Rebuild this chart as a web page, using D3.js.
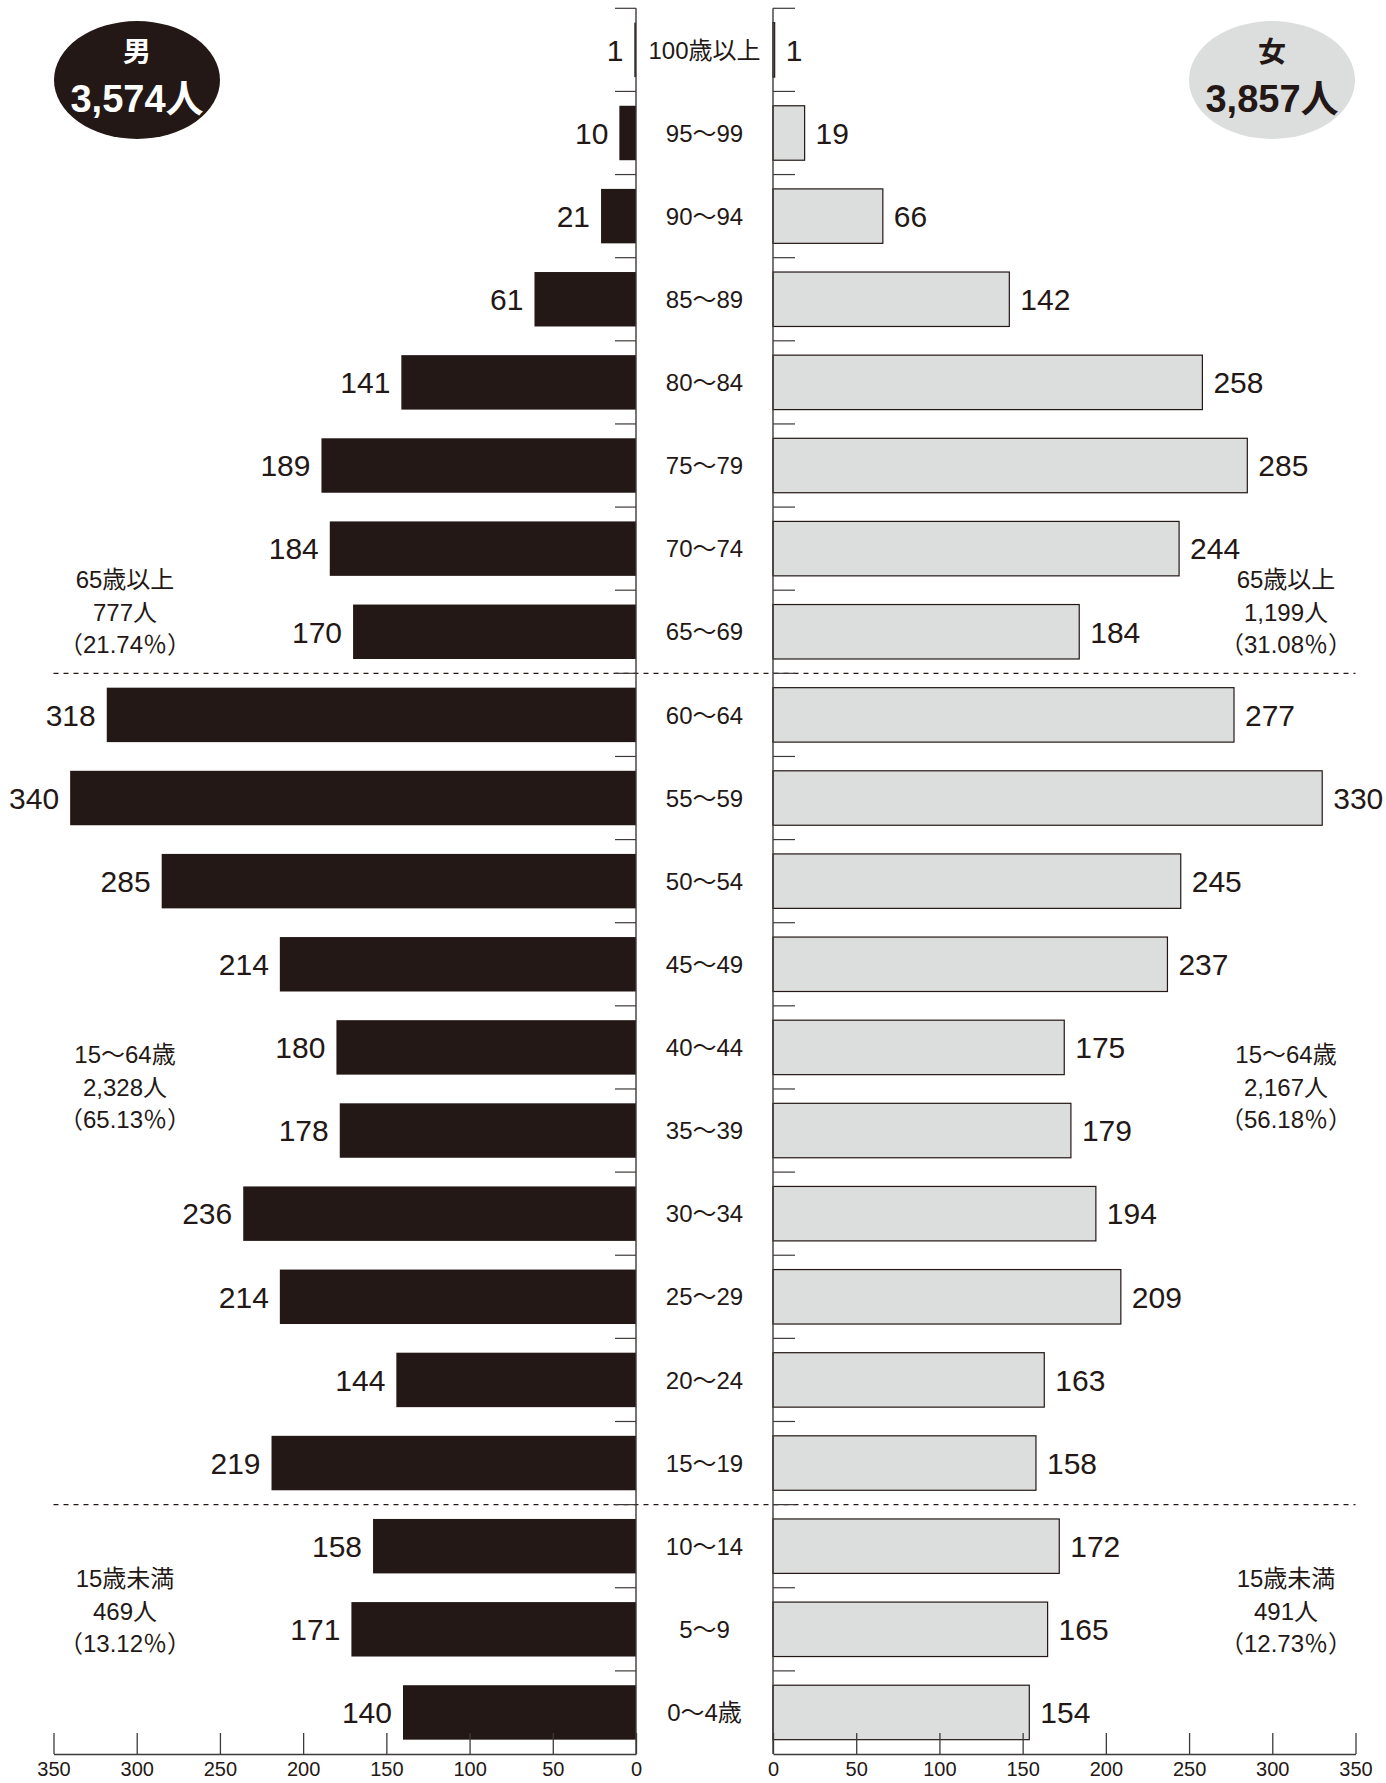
<!DOCTYPE html>
<html>
<head>
<meta charset="utf-8">
<script src="https://cdn.jsdelivr.net/npm/d3@7"></script>
<style>
  html, body { margin: 0; padding: 0; background: #fff; }
  svg text { font-family: "Liberation Sans", Arial, "Noto Sans CJK JP", sans-serif; fill: #231815; }
</style>
</head>
<body>
<div id="chart"></div>
<script>
// 年齢階級（上から）
const ages = ["100歳以上", "95～99", "90～94", "85～89", "80～84", "75～79", "70～74",
  "65～69", "60～64", "55～59", "50～54", "45～49", "40～44", "35～39", "30～34",
  "25～29", "20～24", "15～19", "10～14", "5～9", "0～4歳"];
const male = [1, 10, 21, 61, 141, 189, 184, 170, 318, 340, 285, 214, 180, 178, 236, 214, 144, 219, 158, 171, 140];
const female = [1, 19, 66, 142, 258, 285, 244, 184, 277, 330, 245, 237, 175, 179, 194, 209, 163, 158, 172, 165, 154];
const tickValues = [0, 50, 100, 150, 200, 250, 300, 350];
const totals = { male: ["男", "3,574人"], female: ["女", "3,857人"] };
// 区切り線（この年齢階級の上）
const dividers = ["60～64", "10～14"];
const maleGroups = [
  ["65歳以上", "777人", "（21.74％）"],
  ["15～64歳", "2,328人", "（65.13％）"],
  ["15歳未満", "469人", "（13.12％）"]
];
const femaleGroups = [
  ["65歳以上", "1,199人", "（31.08％）"],
  ["15～64歳", "2,167人", "（56.18％）"],
  ["15歳未満", "491人", "（12.73％）"]
];

const width = 1386, height = 1783;
const ink = "#231815";
const axisColor = "#3e3a39";

const svg = d3.select("#chart").append("svg")
  .attr("width", width).attr("height", height);

const leftZero = 636, rightZero = 773;
const span = 582.5;
const yTop = 8.3, yBottom = 1754;

const xL = d3.scaleLinear().domain([0, 350]).range([leftZero, leftZero - span]);
const xR = d3.scaleLinear().domain([0, 350]).range([rightZero, rightZero + span]);
const y = d3.scaleBand().domain(ages).range([yTop, yBottom])
  .paddingInner(0.345).paddingOuter(0.1725);
const step = y.step();
const boundary = (a) => y(a) - step * 0.345 / 2;

// 区切り線（破線）
svg.selectAll(".divider").data(dividers).enter().append("line")
  .attr("x1", xL(350)).attr("x2", xR(350))
  .attr("y1", (d) => boundary(d)).attr("y2", (d) => boundary(d))
  .attr("stroke", ink).attr("stroke-width", 1.2)
  .attr("stroke-dasharray", "5,5");

// 男 棒
svg.selectAll(".barM").data(ages).enter().append("rect")
  .attr("x", (d, i) => xL(male[i]))
  .attr("y", (d) => y(d))
  .attr("width", (d, i) => xL(0) - xL(male[i]))
  .attr("height", y.bandwidth())
  .attr("fill", ink);

// 女 棒
svg.selectAll(".barF").data(ages).enter().append("rect")
  .attr("x", xR(0))
  .attr("y", (d) => y(d))
  .attr("width", (d, i) => xR(female[i]) - xR(0))
  .attr("height", y.bandwidth())
  .attr("fill", "#dcdddd")
  .attr("stroke", ink).attr("stroke-width", 1.2);

// 縦軸と目盛り
[[leftZero, -21], [rightZero, 22]].forEach(([x0, len]) => {
  svg.append("line")
    .attr("x1", x0).attr("x2", x0).attr("y1", yTop).attr("y2", yBottom)
    .attr("stroke", axisColor).attr("stroke-width", 1.4);
  const bounds = ages.map((a) => boundary(a));
  svg.selectAll(null).data(bounds).enter().append("line")
    .attr("x1", x0).attr("x2", x0 + len)
    .attr("y1", (d) => d).attr("y2", (d) => d)
    .attr("stroke", axisColor).attr("stroke-width", 1.2);
});

// 横軸
const axL = svg.append("g").attr("transform", `translate(0,${yBottom})`)
  .call(d3.axisBottom(xL).tickValues(tickValues).tickSize(-21).tickSizeOuter(0).tickPadding(8));
const axR = svg.append("g").attr("transform", `translate(0,${yBottom})`)
  .call(d3.axisBottom(xR).tickValues(tickValues).tickSize(-21).tickSizeOuter(0).tickPadding(8));
[axL, axR].forEach((ax) => {
  ax.select(".domain").attr("stroke", axisColor).attr("stroke-width", 1.4);
  ax.selectAll(".tick line").attr("stroke", axisColor).attr("stroke-width", 1.3);
  ax.selectAll(".tick text")
    .style("font-family", "'Liberation Sans', Arial, sans-serif")
    .attr("font-size", 20).attr("fill", ink);
});

// 年齢ラベル
svg.selectAll(".age").data(ages).enter().append("text")
  .attr("x", (leftZero + rightZero) / 2)
  .attr("y", (d) => y(d) + y.bandwidth() / 2)
  .attr("dy", "0.36em")
  .attr("text-anchor", "middle")
  .attr("font-size", 24)
  .text((d) => d);

// 数値ラベル
svg.selectAll(".valM").data(ages).enter().append("text")
  .attr("x", (d, i) => xL(male[i]) - 11)
  .attr("y", (d) => y(d) + y.bandwidth() / 2)
  .attr("dy", "0.36em")
  .attr("text-anchor", "end")
  .attr("font-size", 30)
  .text((d, i) => male[i]);

svg.selectAll(".valF").data(ages).enter().append("text")
  .attr("x", (d, i) => xR(female[i]) + 11)
  .attr("y", (d) => y(d) + y.bandwidth() / 2)
  .attr("dy", "0.36em")
  .attr("text-anchor", "start")
  .attr("font-size", 30)
  .text((d, i) => female[i]);

// 合計（楕円）
function badge(cx, fill, color, lines) {
  svg.append("ellipse")
    .attr("cx", cx).attr("cy", 80).attr("rx", 83).attr("ry", 59)
    .attr("fill", fill);
  svg.append("text")
    .attr("x", cx).attr("y", 52).attr("dy", "0.36em")
    .attr("text-anchor", "middle")
    .attr("font-size", 28).attr("font-weight", "bold")
    .style("fill", color)
    .text(lines[0]);
  svg.append("text")
    .attr("x", cx).attr("y", 98).attr("dy", "0.36em")
    .attr("text-anchor", "middle")
    .attr("font-size", 38).attr("font-weight", "bold")
    .style("fill", color)
    .text(lines[1]);
}
badge(137, ink, "#fff", totals.male);
badge(1272, "#dcdddd", ink, totals.female);

// 年齢区分の注記
const groupMidY = [612, 1087, 1611];
function groupNotes(cx, groups) {
  groups.forEach((g, gi) => {
    svg.selectAll(null).data(g).enter().append("text")
      .attr("x", cx)
      .attr("y", (d, i) => groupMidY[gi] + (i - 1) * 32.5)
      .attr("dy", "0.36em")
      .attr("text-anchor", "middle")
      .attr("font-size", 24)
      .text((d) => d);
  });
}
groupNotes(125, maleGroups);
groupNotes(1286, femaleGroups);
</script>
</body>
</html>
